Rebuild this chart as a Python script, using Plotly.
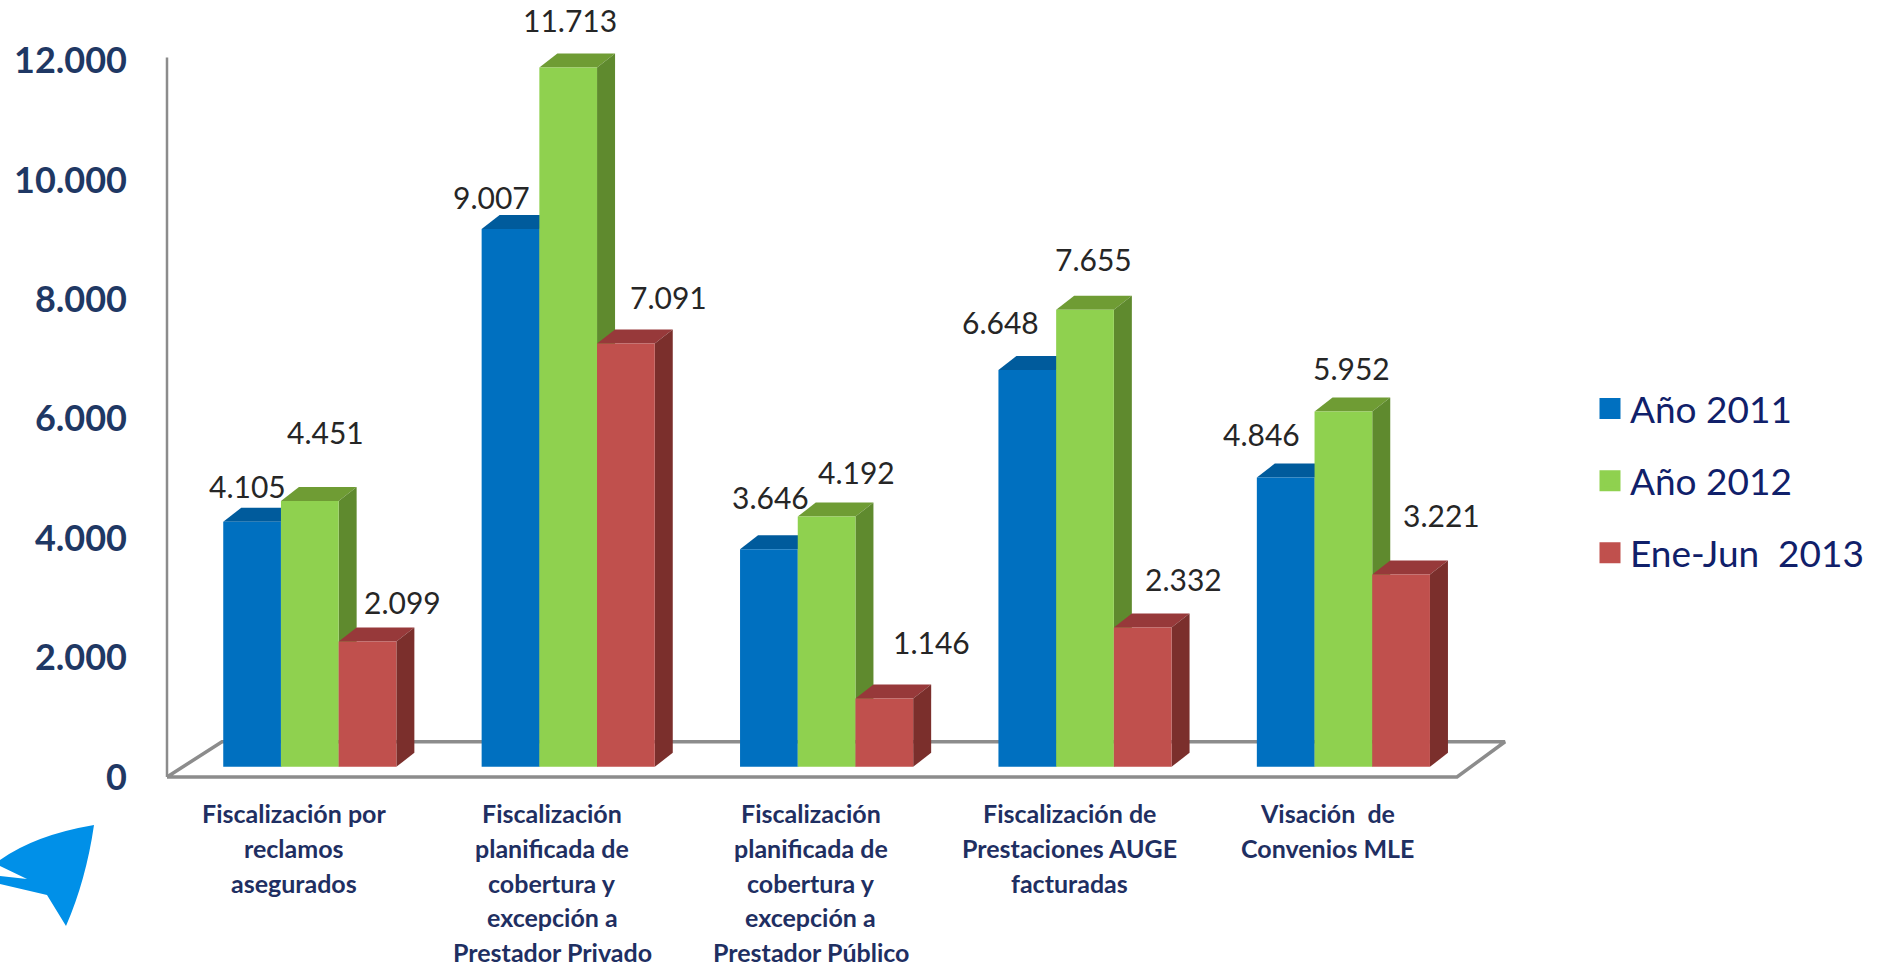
import plotly.graph_objects as go

W, H = 1883, 967

series_names = ["Año 2011", "Año 2012", "Ene-Jun\u00a0\u00a02013"]
values_2011 = [4105, 9007, 3646, 6648, 4846]
values_2012 = [4451, 11713, 4192, 7655, 5952]
values_2013 = [2099, 7091, 1146, 2332, 3221]
value_labels_2011 = ["4.105", "9.007", "3.646", "6.648", "4.846"]
value_labels_2012 = ["4.451", "11.713", "4.192", "7.655", "5.952"]
value_labels_2013 = ["2.099", "7.091", "1.146", "2.332", "3.221"]
y_ticks = [0, 2000, 4000, 6000, 8000, 10000, 12000]
y_tick_labels = ["0", "2.000", "4.000", "6.000", "8.000", "10.000", "12.000"]
categories = [
    ["Fiscalización por", "reclamos", "asegurados"],
    ["Fiscalización", "planificada de", "cobertura y", "excepción a", "Prestador Privado"],
    ["Fiscalización", "planificada de", "cobertura y", "excepción a", "Prestador Público"],
    ["Fiscalización de", "Prestaciones AUGE", "facturadas"],
    ["Visación  de", "Convenios MLE"],
]

front_colors = ["#0070C0", "#8FD14F", "#C0504D"]
top_colors = ["#005B9C", "#6F9C34", "#97393A"]
side_colors = ["#004F88", "#5F8A2E", "#7B2F2C"]
label_dx = [[-5, -19, 2, -27, -24], [16, 2, 30, 8, 8], [35, 43, 47, 41, 40]]
label_dy = [[36, 32, 52, 48, 44], [69, 48, 45, 51, 44], [40, 47, 56, 49, 60]]

all_values = [values_2011, values_2012, values_2013]
all_labels = [value_labels_2011, value_labels_2012, value_labels_2013]

PX_PER_UNIT_X = 258.4
X0_PX = 309.8
LEFT = 150
AXIS_PX = 167
X_RANGE = [(LEFT - X0_PX) / PX_PER_UNIT_X, (W - X0_PX) / PX_PER_UNIT_X]
Y_RANGE = [-3183, 13015]
BAR_BASE = 170
BARGAP = 0.33
BAR_W = (1 - BARGAP) / 3
DX = 18 / PX_PER_UNIT_X
DY = 14 / 0.0597


def x_of(p):
    return (p - X0_PX) / PX_PER_UNIT_X


fig = go.Figure()

# floor and value axis line
floor_x = [x_of(AXIS_PX), x_of(222), x_of(1505), x_of(1457), x_of(AXIS_PX)]
floor_y = [0, 590, 590, 0, 0]
fig.add_trace(go.Scatter(x=floor_x, y=floor_y, mode="lines", line=dict(color="#8C8C8C", width=3.5),
                         showlegend=False, hoverinfo="skip"))
fig.add_trace(go.Scatter(x=[floor_x[0], floor_x[0]], y=[0, 12050], mode="lines",
                         line=dict(color="#8C8C8C", width=2.5), showlegend=False, hoverinfo="skip"))

# depth faces (drawn below the bars, which live on the overlaying axes)
for s, vals in enumerate(all_values):
    for i, v in enumerate(vals):
        xl = i + (s - 1.5) * BAR_W
        xr = xl + BAR_W
        top = BAR_BASE + v
        fig.add_trace(go.Scatter(
            x=[xl, xl + DX, xr + DX, xr, xl], y=[top, top + DY, top + DY, top, top],
            mode="lines", fill="toself", fillcolor=top_colors[s], line=dict(width=0),
            showlegend=False, hoverinfo="skip"))
        fig.add_trace(go.Scatter(
            x=[xr, xr + DX, xr + DX, xr, xr],
            y=[BAR_BASE, BAR_BASE + DY, top + DY, top, BAR_BASE],
            mode="lines", fill="toself", fillcolor=side_colors[s], line=dict(width=0),
            showlegend=False, hoverinfo="skip"))

# front faces
for s, vals in enumerate(all_values):
    fig.add_trace(go.Bar(x=list(range(5)), y=vals, base=BAR_BASE, name=series_names[s],
                         marker=dict(color=front_colors[s], line=dict(width=0)),
                         xaxis="x2", yaxis="y2", showlegend=False, hoverinfo="skip"))

# legend entries
for s in range(3):
    fig.add_trace(go.Scatter(x=[None], y=[None], mode="markers", name=series_names[s],
                             legendgroup=f"g{s}",
                             marker=dict(symbol="square", size=18, color=front_colors[s],
                                         line=dict(color=front_colors[s], width=5))))

annotations = []
for s, vals in enumerate(all_values):
    for i, v in enumerate(vals):
        annotations.append(dict(x=i + (s - 1) * BAR_W, y=BAR_BASE + v, xref="x", yref="y",
                                text=all_labels[s][i], showarrow=False,
                                xanchor="center", yanchor="middle",
                                xshift=label_dx[s][i], yshift=label_dy[s][i],
                                font=dict(family="Lato", size=30, color="#262626")))

for i, lines in enumerate(categories):
    for j, line in enumerate(lines):
        annotations.append(dict(x=i, y=1 - (813 + 34.8 * j) / H, xref="x", yref="paper",
                                text=line.replace("  ", "\u00a0\u00a0"), showarrow=False,
                                xanchor="center", yanchor="middle", xshift=-16,
                                font=dict(family="Lato", size=25, color="#1F2F62", weight="bold")))


def px(x):
    return (x - LEFT) / (W - LEFT)


def py(y):
    return 1 - y / H


logo = (f"M {px(94)} {py(825)} Q {px(35)} {py(835)} {px(0)} {py(860)} L {px(0)} {py(866)} "
        f"L {px(27)} {py(879)} L {px(0)} {py(876)} L {px(0)} {py(884)} L {px(47)} {py(895)} "
        f"L {px(66)} {py(926)} Q {px(86)} {py(880)} {px(94)} {py(825)} Z")

fig.update_layout(
    width=W, height=H, autosize=False,
    margin=dict(l=LEFT, r=0, t=0, b=0),
    paper_bgcolor="white", plot_bgcolor="white",
    barmode="group", bargap=BARGAP, bargroupgap=0,
    xaxis=dict(range=X_RANGE, visible=False, fixedrange=True),
    yaxis=dict(range=Y_RANGE, tickmode="array", tickvals=y_ticks, ticktext=y_tick_labels,
               showgrid=False, zeroline=False, showline=False, ticks="", ticklabelstandoff=22,
               tickfont=dict(family="Lato", size=36, color="#1F3864", weight="bold"),
               fixedrange=True),
    xaxis2=dict(range=X_RANGE, visible=False, overlaying="x", fixedrange=True),
    yaxis2=dict(range=Y_RANGE, visible=False, overlaying="y", fixedrange=True),
    legend=dict(x=(1590 - LEFT) / (W - LEFT), y=1 - 378 / H, xanchor="left", yanchor="top",
                bgcolor="rgba(0,0,0,0)", tracegroupgap=21, itemclick=False, itemdoubleclick=False,
                font=dict(family="Lato", size=37, color="#10206A")),
    annotations=annotations,
    shapes=[dict(type="path", xref="paper", yref="paper", path=logo,
                 fillcolor="#0090E8", line=dict(width=0))],
)

fig.write_html("out.html", config={"displayModeBar": False},
               post_script="document.documentElement.style.margin='0';document.body.style.margin='0';document.body.style.overflow='hidden';")
